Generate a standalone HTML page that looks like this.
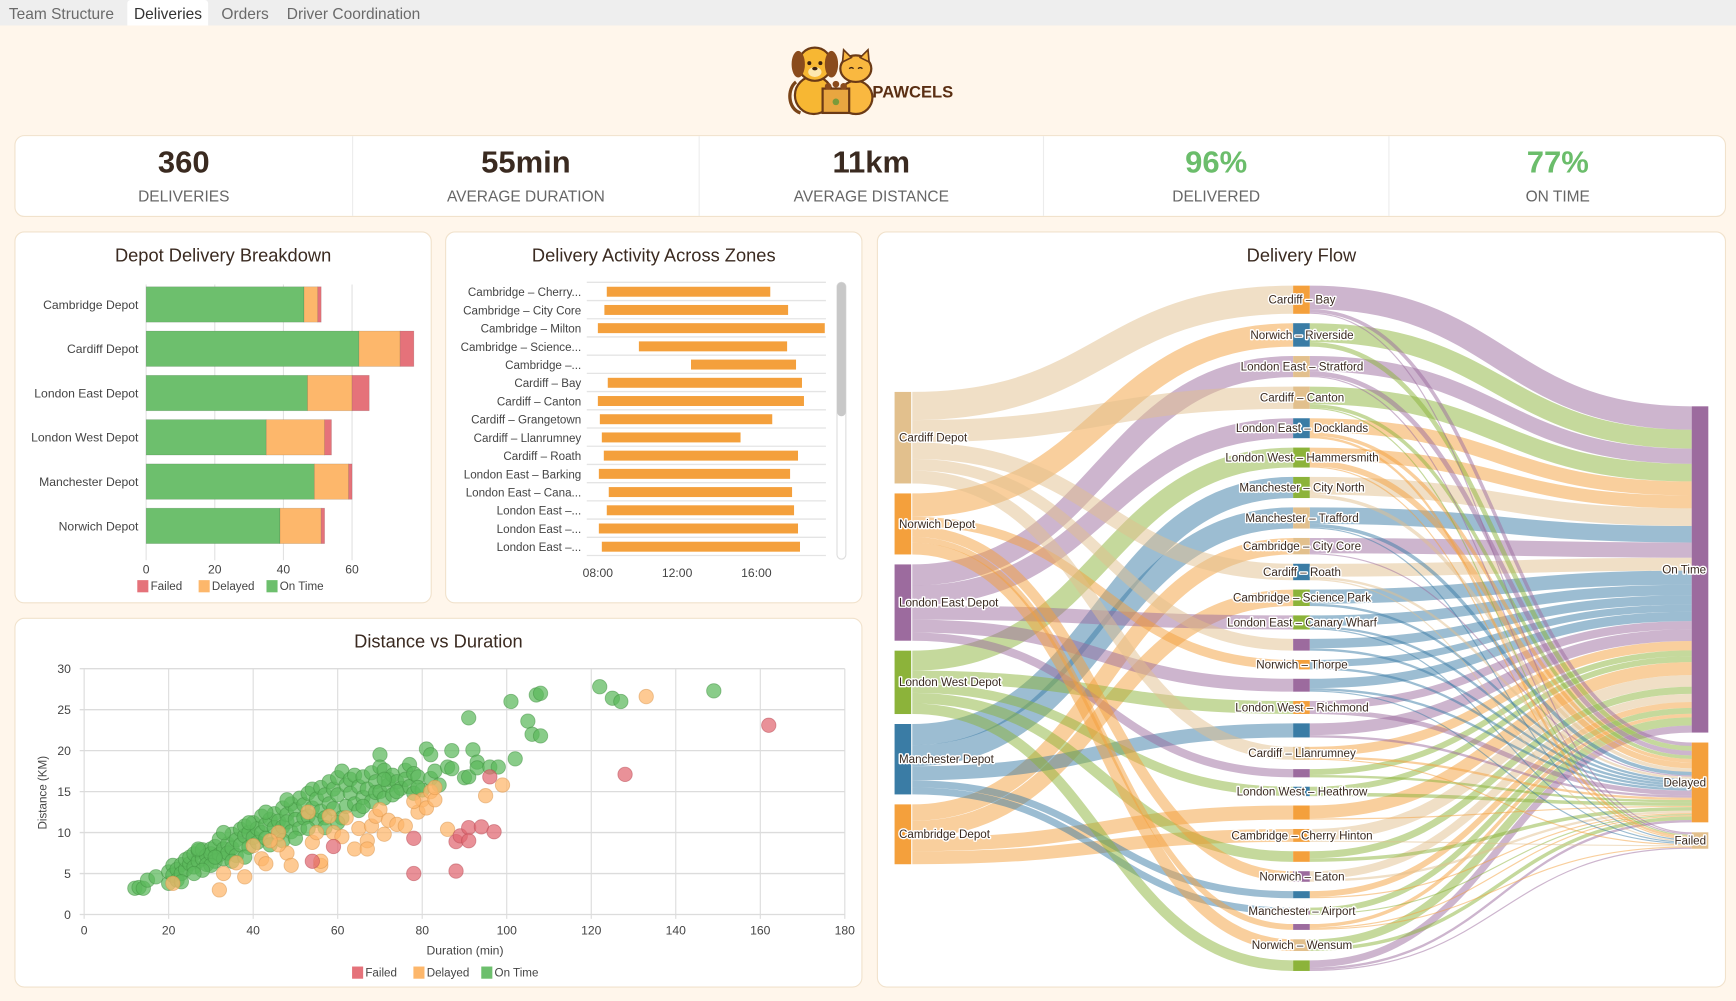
<!DOCTYPE html>
<html><head><meta charset="utf-8">
<style>
html,body{margin:0;padding:0;width:1736px;height:1001px;overflow:hidden;background:#fff6eb;}
#root{position:absolute;left:0;top:0;width:1568px;height:904px;transform:scale(1.10714);transform-origin:0 0;font-family:"Liberation Sans",sans-serif;color:#3a2a20;}
.tabs{position:absolute;left:0;top:0;width:1568px;height:23px;background:#eeeeee;}
.tab{position:absolute;top:0;height:23px;line-height:24px;font-size:14px;color:#6a6a6a;padding:0 6px;}
.tab.active{background:#fff;color:#333;border-radius:3px 3px 0 0;}
.card{position:absolute;background:#fff;border:1px solid #f1e2cc;border-radius:9px;box-sizing:border-box;}
.kpi{position:absolute;top:0;height:72px;text-align:center;border-left:1px solid #ececec;box-sizing:border-box;}
.kv{position:absolute;left:0;right:0;top:8px;font-size:28px;font-weight:bold;color:#3a2a20;}
.kl{position:absolute;left:0;right:0;top:46px;font-size:14px;color:#666;}
.title{position:absolute;left:0;right:0;top:12px;text-align:center;font-size:16.5px;color:#3a2a20;}
svg text{font-family:"Liberation Sans",sans-serif;}
</style></head>
<body>
<div id="root">
  <div class="tabs">
    <div class="tab" style="left:2px">Team Structure</div>
    <div class="tab active" style="left:115px">Deliveries</div>
    <div class="tab" style="left:194px">Orders</div>
    <div class="tab" style="left:253px">Driver Coordination</div>
  </div>
  <svg style="position:absolute;left:705px;top:38px" width="165" height="68">
    <path d="M18 64 C6 60 6 42 14 36" stroke="#7a4418" stroke-width="3" fill="none"/>
    <ellipse cx="30" cy="48" rx="17" ry="17" fill="#f7b733" stroke="#6b3a16" stroke-width="2"/>
    <ellipse cx="31" cy="20" rx="15" ry="15" fill="#f7b733" stroke="#6b3a16" stroke-width="2"/>
    <ellipse cx="16" cy="20" rx="6" ry="12" fill="#8a4b1c"/>
    <ellipse cx="46" cy="20" rx="6" ry="12" fill="#8a4b1c"/>
    <ellipse cx="31" cy="27" rx="6" ry="4.5" fill="#fde7b0"/>
    <circle cx="26" cy="19" r="1.8" fill="#3a2010"/><circle cx="36" cy="19" r="1.8" fill="#3a2010"/>
    <ellipse cx="31" cy="24" rx="2.4" ry="1.6" fill="#3a2010"/>
    <ellipse cx="68" cy="50" rx="15" ry="15" fill="#f9b840" stroke="#6b3a16" stroke-width="2"/>
    <ellipse cx="68" cy="24" rx="14" ry="12" fill="#f9b840" stroke="#6b3a16" stroke-width="2"/>
    <path d="M56 18 L57 7 L64 14 Z M80 18 L79 7 L72 14 Z" fill="#f9b840" stroke="#6b3a16" stroke-width="1.5"/>
    <path d="M62 24 q2 -2 4 0 M70 24 q2 -2 4 0" stroke="#3a2010" stroke-width="1.2" fill="none"/>
    <rect x="38" y="42" width="24" height="22" fill="#e8a640" stroke="#6b3a16" stroke-width="2"/>
    <circle cx="43" cy="40" r="3" fill="#8a4b1c"/><circle cx="50" cy="38" r="3" fill="#8a4b1c"/><circle cx="57" cy="40" r="3" fill="#8a4b1c"/>
    <circle cx="50" cy="54" r="3" fill="#7a9a3a"/>
    <text x="83" y="50" font-size="15" font-weight="bold" fill="#5a2e12">PAWCELS</text>
  </svg>

  <div class="card" style="left:13px;top:122px;width:1546px;height:74px">
    <div class="kpi" style="left:0;width:304px;border-left:none"><div class="kv">360</div><div class="kl">DELIVERIES</div></div>
    <div class="kpi" style="left:304px;width:313px"><div class="kv">55min</div><div class="kl">AVERAGE DURATION</div></div>
    <div class="kpi" style="left:617px;width:311px"><div class="kv">11km</div><div class="kl">AVERAGE DISTANCE</div></div>
    <div class="kpi" style="left:928px;width:312px"><div class="kv" style="color:#6bbd6b">96%</div><div class="kl">DELIVERED</div></div>
    <div class="kpi" style="left:1240px;width:305px"><div class="kv" style="color:#6bbd6b">77%</div><div class="kl">ON TIME</div></div>
  </div>

  <div class="card" style="left:13px;top:209px;width:377px;height:336px"><div class="title">Depot Delivery Breakdown</div></div>
  <div class="card" style="left:402px;top:209px;width:377px;height:336px"><div class="title">Delivery Activity Across Zones</div></div>
  <div class="card" style="left:13px;top:558px;width:766px;height:334px"><div class="title">Distance vs Duration</div></div>
  <div class="card" style="left:792px;top:209px;width:767px;height:683px"><div class="title">Delivery Flow</div></div>

  <svg id="charts" style="position:absolute;left:0;top:0" width="1568" height="904"></svg>
</div>
<script>
// ---------- Depot breakdown data ----------
const depotNames = ['Cambridge Depot','Cardiff Depot','London East Depot','London West Depot','Manchester Depot','Norwich Depot'];
const depotOnTime = [46,62,47,35,49,39];
const depotDelayed = [4,12,13,17,10,12];
const depotFailed = [1,4,5,2,1,1];
const depotTicks = [0,20,40,60];

// ---------- Zone activity data ----------
const zoneNames = ['Cambridge – Cherry...','Cambridge – City Core','Cambridge – Milton','Cambridge – Science...','Cambridge –...','Cardiff – Bay','Cardiff – Canton','Cardiff – Grangetown','Cardiff – Llanrumney','Cardiff – Roath','London East – Barking','London East – Cana...','London East –...','London East –...','London East –...'];
const zoneStart = [8.45,8.33,8.0,10.07,12.7,8.5,8.0,8.1,8.2,8.3,8.05,8.55,8.45,8.05,8.2];
const zoneEnd = [16.7,17.6,19.45,17.55,18.0,18.3,18.4,16.8,15.2,18.1,17.7,17.8,17.9,18.1,18.2];
const zoneTicks = ['08:00','12:00','16:00'];
const zoneTickHours = [8,12,16];

// ---------- Scatter data [duration, distance] ----------
const onTimePts = [[12,3.2],[13,3.3],[14,3.2],[15,4.2],[17,4.6],[20,3.8],[20,5.2],[21,6],[21,4.8],[22,5.5],[22,4.2],[23,6.1],[23,5],[24,5.5],[24,6.7],[25,6.2],[25,7],[26,5.8],[26,7.4],[27,6.5],[27,7.8],[28,6.8],[28,7.9],[29,7.2],[29,6.1],[30,8],[30,7.4],[31,6.5],[31,8.3],[32,7.3],[32,9.2],[33,8],[33,6.8],[34,8.6],[34,7.5],[35,9.8],[35,8.1],[36,9.1],[36,7.2],[37,10.4],[37,8.5],[38,9.6],[38,10.8],[39,8.2],[39,10],[40,11.2],[40,9.4],[41,10.5],[41,8.8],[42,12],[42,10],[43,11],[43,9.3],[44,11.6],[45,10.6],[45,12.3],[46,9.8],[46,11.4],[47,13],[47,10.7],[48,12.2],[48,11.3],[49,13.5],[49,10.1],[50,12.8],[50,11.6],[51,14.2],[51,10.5],[52,13.4],[52,11.8],[53,14.8],[53,12],[54,15.3],[54,13],[55,14.1],[55,11.5],[56,15.5],[56,12.6],[57,14.6],[57,11.8],[58,16.2],[58,13.5],[59,15.3],[59,12.9],[60,16.7],[60,14.6],[61,17.5],[61,11.8],[62,15.8],[62,13.2],[63,16.5],[63,14.8],[64,17],[64,13.5],[65,15.6],[65,12.7],[66,16.8],[66,14.3],[67,15.3],[68,17.3],[68,13.8],[69,16.2],[69,14.9],[70,19.5],[70,18],[70,15],[71,17.6],[71,14.2],[72,16.5],[72,15.8],[73,17],[73,14.6],[74,16.2],[75,15.4],[76,17.6],[76,16.5],[77,15.6],[77,18.3],[78,17.2],[78,14.8],[79,16.8],[80,15.2],[81,20.2],[82,19.5],[82,16.6],[83,17.5],[84,15.8],[86,18],[87,20],[87,17.8],[90,16.7],[91,16.8],[92,20.1],[93,18.6],[93,17.9],[96,18],[98,18],[102,19],[91,24],[101,26],[105,23.6],[106,22],[108,21.8],[107,26.8],[108,27],[122,27.8],[125,26.4],[127,26],[149,27.3],[33,10],[35,6.5],[38,7],[44,8.5],[47,9],[50,9.3],[30,6],[28,5.4],[26,5],[23,4],[27,8],[31,7],[39,11.2],[43,12.5],[48,14],[53,10.5],[57,10.6],[60,11.2],[66,13.2],[71,16.5],[74,15],[79,15.5]];
const delayedPts = [[32,3],[38,4.6],[33,5],[21,3.8],[40,8.4],[42,6.8],[43,6.2],[46,10],[48,7.5],[49,6],[53,12.5],[54,8.8],[56,6],[56,6.5],[58,12],[59,10],[62,11.8],[61,9.5],[64,8],[65,10.5],[67,9],[67,8],[68,10.8],[69,12],[70,12.8],[71,9.8],[72,11.5],[74,11],[76,10.8],[79,12.5],[80,14],[81,13],[82,15],[83,14],[83,15.5],[86,10.4],[95,14.5],[99,15.8],[133,26.6],[78,13.8],[46,8.5],[36,6.3],[44,9],[55,10]];
const failedPts = [[54,6.5],[59,8.3],[78,9.3],[78,5],[88,8.9],[88,5.3],[89,9.6],[91,10.6],[91,9],[94,10.7],[96,16.8],[97,10.1],[128,17.1],[162,23.1]];
const scatterXTicks = [0,20,40,60,80,100,120,140,160,180];
const scatterYTicks = [0,5,10,15,20,25,30];

// ---------- Sankey data ----------
const sankeyDepots = ['Cardiff Depot','Norwich Depot','London East Depot','London West Depot','Manchester Depot','Cambridge Depot'];
const sankeyZones = ['Cardiff – Bay','Norwich – Riverside','London East – Stratford','Cardiff – Canton','London East – Docklands','London West – Hammersmith','Manchester – City North','Manchester – Trafford','Cambridge – City Core','Cardiff – Roath','Cambridge – Science Park','London East – Canary Wharf','Cardiff – Grangetown','Norwich – Thorpe','London East – Barking','London West – Richmond','Manchester – Salford','Cardiff – Llanrumney','London East – Greenwich','London West – Heathrow','Cambridge – Milton','Cambridge – Cherry Hinton','London West – Ealing','Norwich – Eaton','Manchester – Stockport','Manchester – Airport','Norwich – Hellesdon','Norwich – Wensum','London West – Chiswick'];
const zoneShowLabel = [1,1,1,1,1,1,1,1,1,1,1,1,0,1,0,1,0,1,0,1,0,1,0,1,0,1,0,1,0];
const zoneDepot = [0,1,2,0,2,3,4,4,5,0,5,2,0,1,2,3,4,0,2,3,5,5,3,1,4,4,1,1,3];
const zoneOnTime = [20,16,13,15,12,11,15,14,13,11,12,9,8,6,8,7,10,8,5,5,11,10,6,7,5,5,3,7,6];
const zoneDelayed = [3,4,4,3,3,5,3,3,1,2,2,2,2,2,2,4,2,2,2,3,1,0,3,2,1,1,1,3,2];
const zoneFailed = [1,0,1,1,2,1,0,1,0,1,0,1,0,0,1,0,0,1,0,0,0,1,0,0,0,0,1,0,1];
const outcomeNames = ['On Time','Delayed','Failed'];

// ---------- helpers ----------
const NS = 'http://www.w3.org/2000/svg';
const svg = document.getElementById('charts');
function mk(tag, parent){ const e = document.createElementNS(NS, tag); (parent||svg).appendChild(e); return e; }
function txt(parent, x, y, s, size, fill, anchor){
  const t = mk('text', parent); t.setAttribute('x', x); t.setAttribute('y', y);
  t.setAttribute('font-size', size); t.setAttribute('fill', fill||'#444');
  t.setAttribute('text-anchor', anchor||'start'); t.textContent = s; return t;
}
function line(parent,x1,y1,x2,y2,c,w){ const l=mk('line',parent); l.setAttribute('x1',x1);l.setAttribute('y1',y1);l.setAttribute('x2',x2);l.setAttribute('y2',y2);l.setAttribute('stroke',c);l.setAttribute('stroke-width',w||1); return l; }
function legend(parent, cx, y, items){
  let x = cx - 78;
  items.forEach(it=>{
    const r = mk('rect', parent); r.setAttribute('x', x); r.setAttribute('y', y-9); r.setAttribute('width', 10); r.setAttribute('height', 11); r.setAttribute('fill', it[1]);
    
    
    const t = txt(parent, x+12, y, it[0], 10.5, '#444');
    
    
    x += 12 + it[0].length*5.9 + 8;
  });
}
const GREEN='#6dbf6d', ORANGE='#fdb76b', RED='#e5727a';

// ---------- Depot breakdown ----------
(function(){
  const g = mk('g');  
  const xs = v => 132 + v*3.1;
  depotTicks.forEach(t=>{
    const l = line(g, xs(t), 257, xs(t), 506, '#e2e2e2', 1);
     
    const tl = txt(g, xs(t), 518, String(t), 11, '#444', 'middle');
     
  });
  depotNames.forEach((n,i)=>{
    const cy = 275 + i*40;
    const lbl = txt(g, 125, cy+4, n, 11, '#444', 'end');
     
    const segs = [[0,depotOnTime[i],GREEN,'bar-on-time'],[depotOnTime[i],depotDelayed[i],ORANGE,'bar-delayed'],[depotOnTime[i]+depotDelayed[i],depotFailed[i],RED,'bar-failed']];
    segs.forEach(s=>{
      const r = mk('rect', g); r.setAttribute('x', xs(s[0])); r.setAttribute('y', cy-16);
      r.setAttribute('width', s[1]*3.1); r.setAttribute('height', 32); r.setAttribute('fill', s[2]);
      r.setAttribute('stroke','rgba(0,0,0,0.15)'); r.setAttribute('stroke-width','0.6');
      
      
    });
  });
  legend(g, 202, 533, [['Failed',RED],['Delayed',ORANGE],['On Time',GREEN]]);
})();

// ---------- Zone activity ----------
(function(){
  const g = mk('g');  
  const xs = h => 540 + (h-8)*17.9;
  for(let i=0;i<=zoneNames.length;i++){
    const y = 255 + i*16.45;
    const l = line(g, 530, y, 746, y, '#e4e4e4', 1.2);
     
  }
  zoneNames.forEach((n,i)=>{
    const cy = 263.5 + i*16.45;
    const t = txt(g, 525, cy+4, n, 10.5, '#444', 'end');
     
    const r = mk('rect', g); r.setAttribute('x', xs(zoneStart[i])); r.setAttribute('y', cy-4.5);
    r.setAttribute('width', xs(zoneEnd[i])-xs(zoneStart[i])); r.setAttribute('height', 9); r.setAttribute('fill','#f4a03c');
    
    
  });
  zoneTicks.forEach((t,i)=>{
    const tl = txt(g, xs(zoneTickHours[i]), 521, t, 11, '#444', 'middle');
     
  });
  const tr = mk('rect', g); tr.setAttribute('x',756); tr.setAttribute('y',255); tr.setAttribute('width',8); tr.setAttribute('height',250); tr.setAttribute('rx',4); tr.setAttribute('fill','none'); tr.setAttribute('stroke','#ddd');
   
  const th = mk('rect', g); th.setAttribute('x',756); th.setAttribute('y',255); th.setAttribute('width',8); th.setAttribute('height',121); th.setAttribute('rx',4); th.setAttribute('fill','#c8c8c8');
   
})();

// ---------- Scatter ----------
(function(){
  const g = mk('g');  
  const xs = v => 76 + v*3.817, ys = v => 826 - v*7.4;
  scatterXTicks.forEach(t=>{
    const l = line(g, xs(t), 604, xs(t), 830, '#dcdcdc', 1);  
    const tl = txt(g, xs(t), 844, String(t), 11, '#444', 'middle');  
  });
  scatterYTicks.forEach(t=>{
    const l = line(g, 72, ys(t), 763, ys(t), '#dcdcdc', 1.2);  
    const tl = txt(g, 64, ys(t)+4, String(t), 11, '#444', 'end');  
  });
  const yt = txt(g, 0, 0, 'Distance (KM)', 10.5, '#444', 'middle');
  yt.setAttribute('transform','translate(42,716) rotate(-90)');
   
  const xt = txt(g, 420, 862, 'Duration (min)', 11, '#444', 'middle');
   
  const groups = [[onTimePts,'#5cb85c','#3f8f3f','point-on-time'],[delayedPts,'#fdb56a','#d9944a','point-delayed'],[failedPts,'#e06670','#b84a54','point-failed']];
  groups.forEach(gr=>{
    gr[0].forEach(p=>{
      const c = mk('circle', g); c.setAttribute('cx', xs(p[0])); c.setAttribute('cy', ys(p[1])); c.setAttribute('r', 6.5);
      c.setAttribute('fill', gr[1]); c.setAttribute('fill-opacity', 0.72); c.setAttribute('stroke', gr[2]); c.setAttribute('stroke-opacity', 0.5); c.setAttribute('stroke-width', 0.8);
      
      
    });
  });
  legend(g, 396, 882, [['Failed',RED],['Delayed',ORANGE],['On Time',GREEN]]);
})();

// ---------- Sankey ----------
(function(){
  const g = mk('g');  
  const k = 1.06;
  const depotColors = ['#e2c08d','#f4a03c','#9c6b9e','#8cb33a','#3a7ca5','#f4a03c'];
  const zoneColors = ['#f4a03c','#3a7ca5','#e2c08d','#e2c08d','#3a7ca5','#8cb33a','#8cb33a','#e2c08d','#e2c08d','#3a7ca5','#8cb33a','#8cb33a','#9c6b9e','#f4a03c','#9c6b9e','#f4a03c','#3a7ca5','#e2c08d','#9c6b9e','#3a7ca5','#f4a03c','#f4a03c','#f4a03c','#9c6b9e','#3a7ca5','#9c6b9e','#9c6b9e','#e2c08d','#8cb33a'];
  const zoneOutColors = ['#9c6b9e','#8cb33a','#9c6b9e','#8cb33a','#f4a03c','#f4a03c','#e2c08d','#3a7ca5','#9c6b9e','#e2c08d','#3a7ca5','#3a7ca5','#3a7ca5','#3a7ca5','#3a7ca5','#9c6b9e','#9c6b9e','#f4a03c','#8cb33a','#8cb33a','#f4a03c','#e2c08d','#8cb33a','#e2c08d','#f4a03c','#8cb33a','#f4a03c','#8cb33a','#9c6b9e'];
  const outColors = ['#9c6b9e','#f4a03c','#e2c08d'];
  const nZ = sankeyZones.length;
  const zTot = sankeyZones.map((z,i)=>zoneOnTime[i]+zoneDelayed[i]+zoneFailed[i]);
  const dTot = sankeyDepots.map((d,j)=>zTot.reduce((s,v,i)=>s+(zoneDepot[i]===j?v:0),0));
  const oVals = [zoneOnTime, zoneDelayed, zoneFailed];
  const oTot = oVals.map(a=>a.reduce((s,v)=>s+v,0));
  // node positions
  const dY=[]; let y=354; dTot.forEach((v,j)=>{dY.push(y); y+=v*k+9;});
  const total = zTot.reduce((s,v)=>s+v,0);
  const pad = (619 - total*k)/(nZ-1);
  const zY=[]; y=258; zTot.forEach(v=>{zY.push(y); y+=v*k+pad;});
  const oY=[]; y=367; oTot.forEach(v=>{oY.push(y); y+=v*k+9;});
  const LX=[808,824], MX=[1168,1183], RX=[1528,1543];
  function link(x0,y0,x1,y1,w,color,name){
    const mx=(x0+x1)/2; const p = mk('path', g);
    p.setAttribute('d', `M${x0},${y0} C${mx},${y0} ${mx},${y1} ${x1},${y1}`);
    p.setAttribute('fill','none'); p.setAttribute('stroke',color); p.setAttribute('stroke-opacity',0.5); p.setAttribute('stroke-width',w);
    
    
  }
  // depot -> zone
  const dOff = dY.slice();
  const zInOff = zY.slice();
  for(let i=0;i<nZ;i++){
    const j = zoneDepot[i], w = zTot[i]*k;
    link(LX[1], dOff[j]+w/2, MX[0], zInOff[i]+w/2, w, depotColors[j], 'depot-zone-link');
    dOff[j]+=w;
  }
  // zone -> outcome
  const oOff = oY.slice();
  for(let o=0;o<3;o++){
    for(let i=0;i<nZ;i++){
      const v = oVals[o][i]; if(!v) continue;
      let zo = zY[i]; for(let q=0;q<o;q++) zo += oVals[q][i]*k;
      const w = v*k;
      link(MX[1], zo+w/2, RX[0], oOff[o]+w/2, w, zoneOutColors[i], 'zone-outcome-link');
      oOff[o]+=w;
    }
  }
  function node(x,y0,h,c,name){
    const r = mk('rect', g); r.setAttribute('x',x); r.setAttribute('y',y0); r.setAttribute('width',15); r.setAttribute('height',h); r.setAttribute('fill',c);
    
    
  }
  function label(x,y0,s,anchor){
    const t = txt(g, x, y0+3.5, s, 10.5, '#3a2a20', anchor);
    t.setAttribute('style','paint-order:stroke;stroke:#fff;stroke-width:2.5px;stroke-linejoin:round');
    
    
  }
  sankeyDepots.forEach((d,j)=>{ node(LX[0], dY[j], dTot[j]*k, depotColors[j], 'depot-node'); });
  sankeyZones.forEach((z,i)=>{ node(MX[0], zY[i], zTot[i]*k, zoneColors[i], 'zone-node'); });
  outcomeNames.forEach((o,q)=>{ node(RX[0], oY[q], oTot[q]*k, outColors[q], 'outcome-node'); });
  sankeyDepots.forEach((d,j)=>{ label(LX[0]+4, dY[j]+dTot[j]*k/2, d, 'start'); });
  sankeyZones.forEach((z,i)=>{ if(zoneShowLabel[i]) label(1176, zY[i]+zTot[i]*k/2, z, 'middle'); });
  outcomeNames.forEach((o,q)=>{ label(RX[1]-2, oY[q]+oTot[q]*k/2, o, 'end'); });
})();
</script>
</body></html>
